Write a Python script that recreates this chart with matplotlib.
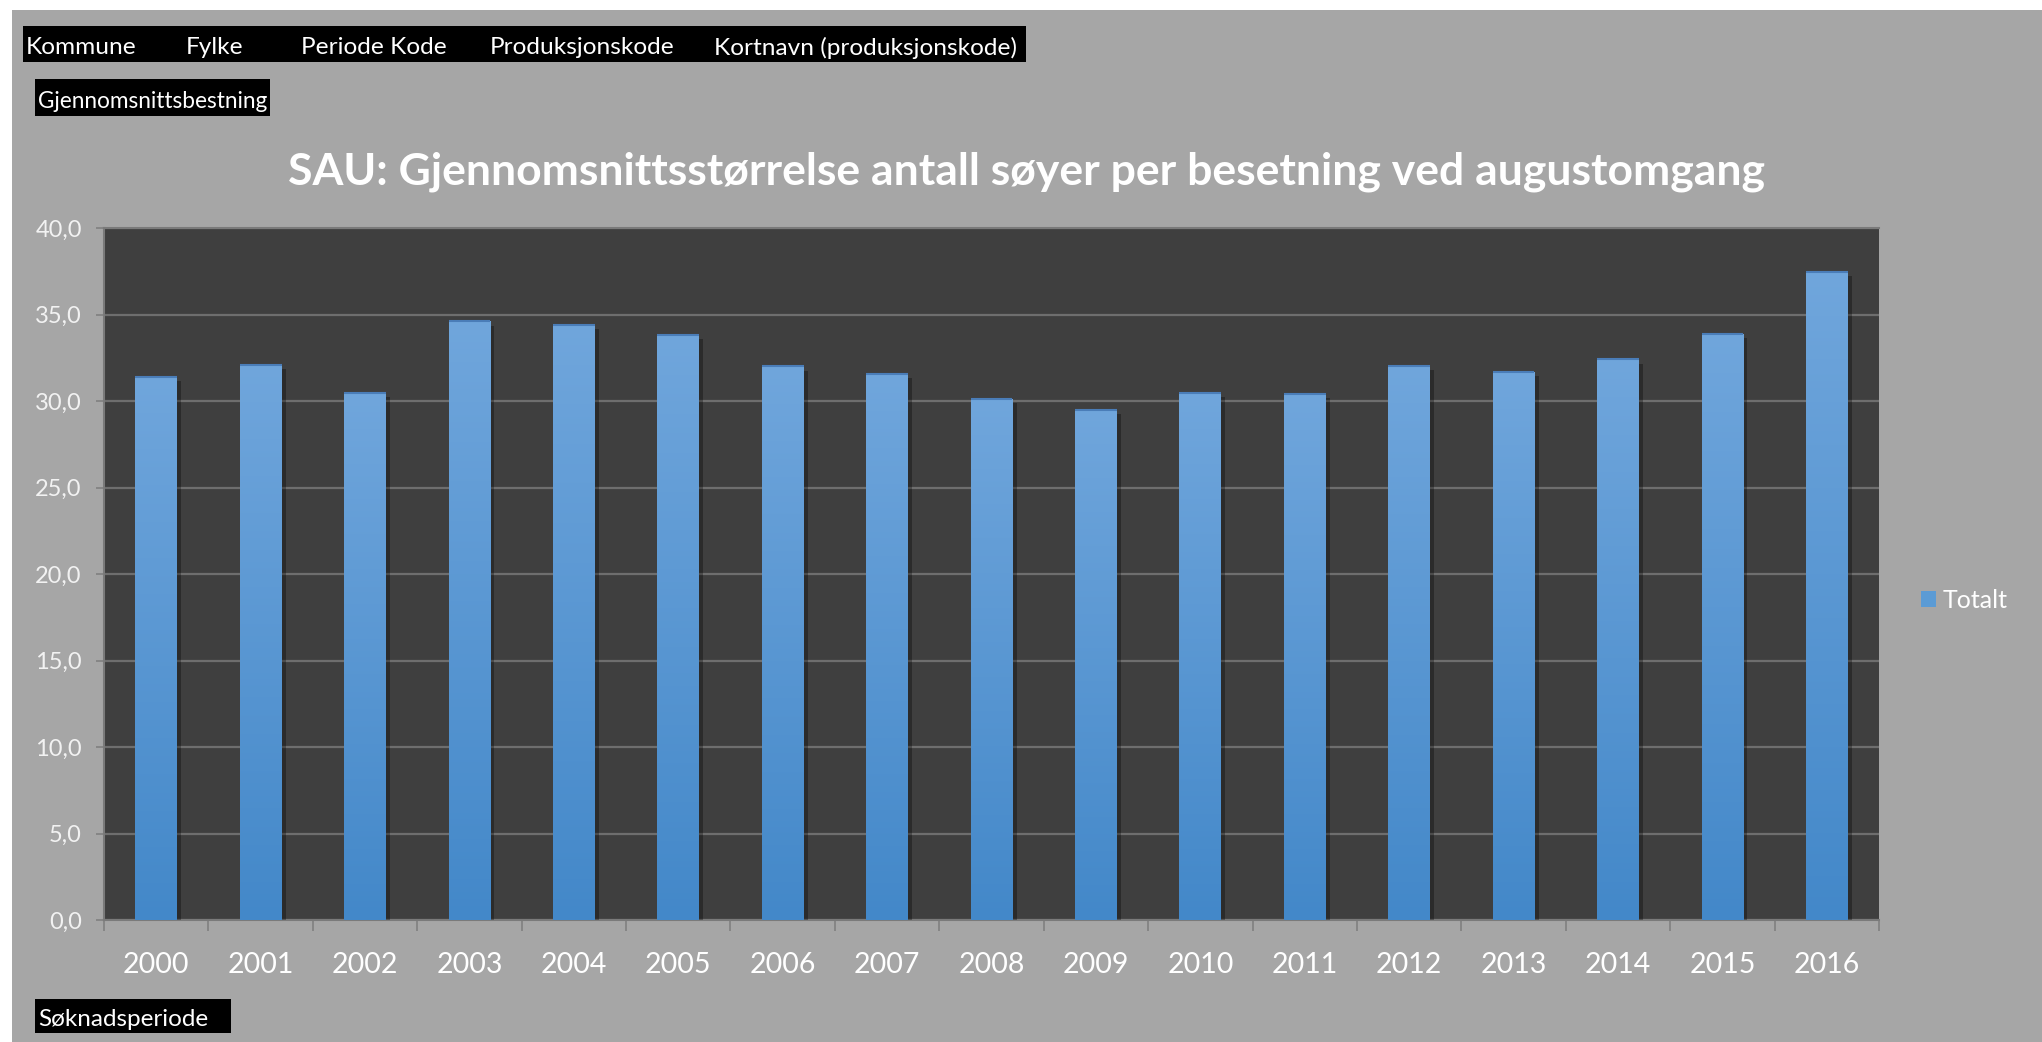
import matplotlib.pyplot as plt
import numpy as np
from matplotlib.colors import LinearSegmentedColormap
from matplotlib.patches import Rectangle, Patch
from matplotlib import patheffects

plt.rcParams['font.family'] = ['Lato', 'DejaVu Sans']

# data
years = ['2000', '2001', '2002', '2003', '2004', '2005', '2006', '2007', '2008',
         '2009', '2010', '2011', '2012', '2013', '2014', '2015', '2016']
totalt = [31.4, 32.1, 30.45, 34.6, 34.4, 33.8, 32.0, 31.55, 30.1,
          29.5, 30.45, 30.4, 32.05, 31.7, 32.4, 33.9, 37.45]
yticks = [0, 5, 10, 15, 20, 25, 30, 35, 40]
header_felt = ['Kommune', 'Fylke', 'Periode Kode', 'Produksjonskode', 'Kortnavn (produksjonskode)']
header_x = [26, 186, 301, 490, 714]   # px, venstrekant

W, H = 2042, 1042
BG = '#a6a6a6'
PLOT_BG = '#3f3f3f'
WHITE = '#ffffff'

fig = plt.figure(figsize=(W / 100, H / 100), dpi=100, facecolor='white')

def fx(px):
    return px / W

def fy(py):
    return 1 - py / H

# grå bakgrunn (hvit kant øverst og til venstre)
fig.patches.append(Rectangle((fx(12), 0), 1 - fx(12), fy(10), transform=fig.transFigure,
                             facecolor=BG, edgecolor='none', zorder=-2))

# filterknapper øverst
fig.patches.append(Rectangle((fx(23), fy(62)), fx(1026 - 23), (62 - 26) / H,
                             transform=fig.transFigure, facecolor='black', zorder=-1))
for navn, x in zip(header_felt, header_x):
    fig.text(fx(x), fy(47.5), navn, color=WHITE, fontsize=17.6, va='center', ha='left')

fig.patches.append(Rectangle((fx(35), fy(116)), fx(270 - 35), (116 - 79) / H,
                             transform=fig.transFigure, facecolor='black', zorder=-1))
fig.text(fx(38), fy(101), 'Gjennomsnittsbestning', color=WHITE, fontsize=16.3, va='center')

fig.patches.append(Rectangle((fx(35), fy(1033)), fx(231 - 35), (1033 - 999) / H,
                             transform=fig.transFigure, facecolor='black', zorder=-1))
fig.text(fx(38), fy(1020), 'Søknadsperiode', color=WHITE, fontsize=17.5, va='center')

# tittel
fig.text(fx(1026), fy(172), 'SAU: Gjennomsnittsstørrelse antall søyer per besetning ved augustomgang',
         color=WHITE, fontsize=32, fontweight='bold', ha='center', va='center')

# plottområde
ax = fig.add_axes([fx(104), fy(920), fx(1879 - 104), (920 - 228) / H])
ax.set_facecolor(PLOT_BG)
x = np.arange(len(years))
bredde = 0.4

bars = ax.bar(x, totalt, width=bredde, color='#5b9bd5', zorder=3)
cmap = LinearSegmentedColormap.from_list('blaa', ['#4388c9', '#70a6dc'])
grad = np.linspace(0, 1, 256).reshape(-1, 1)
for b in bars:
    b.set_path_effects([patheffects.SimplePatchShadow(offset=(3, -3), shadow_rgbFace='black', alpha=0.3),
                        patheffects.Normal()])
    x0 = b.get_x()
    im = ax.imshow(grad, extent=[x0, x0 + b.get_width(), 0, b.get_height()], origin='lower',
                   cmap=cmap, aspect='auto', zorder=4)
    im.set_clip_path(b)
ax.hlines(totalt, x - bredde / 2, x + bredde / 2, color='#4a7db8', lw=1.5, zorder=5)

ax.set_xlim(-0.5, len(years) - 0.5)
ax.set_ylim(0, 40)
ax.set_yticks(yticks)
ax.set_yticklabels([f'{v:.1f}'.replace('.', ',') for v in yticks])
ax.yaxis.grid(True, color='#6e6e6e', lw=1.6, zorder=1)
ax.set_axisbelow(True)

ax.set_xticks(np.arange(-0.5, len(years)), labels=[])
ax.set_xticks(x, labels=years, minor=True)
ax.tick_params(axis='x', which='major', length=8, width=1.2, color='#808080', direction='out')
ax.tick_params(axis='x', which='minor', length=0, pad=23, labelsize=20.5, labelcolor=WHITE)
ax.tick_params(axis='y', length=6, width=1.2, color='#808080', pad=10, labelsize=17, labelcolor='#f2f2f2')

for side in ['top', 'left', 'bottom']:
    ax.spines[side].set_color('#7a7a7a')
    ax.spines[side].set_linewidth(1.5)
ax.spines['right'].set_visible(False)

# forklaring
fig.legend(handles=[Patch(facecolor='#5b9bd5')], labels=['Totalt'], loc='center left',
           bbox_to_anchor=(fx(1898), fy(600)), frameon=False, fontsize=18, labelcolor=WHITE,
           handlelength=0.6, handleheight=0.6, handletextpad=0.3)

fig.savefig('out.png', dpi=100, facecolor=fig.get_facecolor())
